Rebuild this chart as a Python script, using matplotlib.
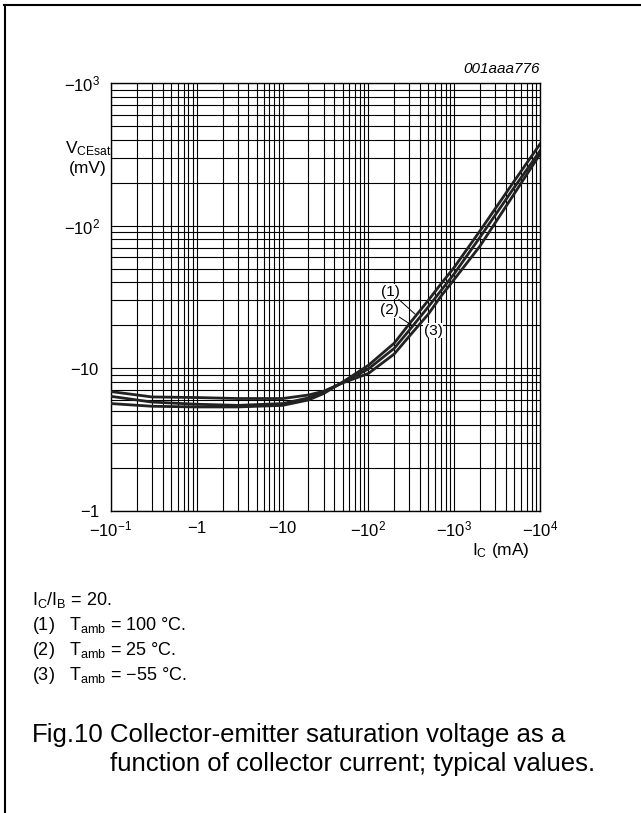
import numpy as np
import matplotlib
matplotlib.use("Agg")
import matplotlib.pyplot as plt
from matplotlib.lines import Line2D
from matplotlib.ticker import FixedLocator, LogLocator, NullFormatter

plt.rcParams['font.family'] = ['Liberation Sans', 'DejaVu Sans']
plt.rcParams['mathtext.fontset'] = 'custom'
plt.rcParams['mathtext.rm'] = 'Liberation Sans'
plt.rcParams['mathtext.it'] = 'Liberation Sans:italic'

# collector current (mA) and V_CEsat (mV) (negative values)
ic = [-0.1, -0.3, -1, -3, -10, -20, -30, -50, -100, -200, -300, -500, -700, -1000, -2000, -5000, -10000]
vce_100 = [-5.66, -5.42, -5.36, -5.36, -5.5, -6.0, -6.65, -8.0, -10.5, -15.0, -20.5, -30, -39, -51, -92, -205, -373]
vce_25 = [-6.36, -5.8, -5.6, -5.5, -5.66, -6.2, -6.8, -7.95, -9.9, -13.8, -18.5, -27, -35, -46, -83, -185, -334]
vce_m55 = [-6.87, -6.3, -6.24, -6.14, -6.14, -6.5, -6.9, -7.9, -9.2, -12.6, -16.8, -24, -32, -42, -72, -167, -317]

x_ticks = [0.1, 1, 10, 100, 1000, 10000]
x_labels = [r'$-10^{-1}$', r'$-1$', r'$-10$', r'$-10^{2}$', r'$-10^{3}$', r'$-10^{4}$']
y_ticks = [1, 10, 100, 1000]
y_labels = [r'$-1$', r'$-10$', r'$-10^{2}$', r'$-10^{3}$']

fig = plt.figure(figsize=(6.41, 8.13), dpi=100)
ax = fig.add_axes([0.1732, 0.3715, 0.6692, 0.5264])

ic_abs = -np.array(ic)
for v in (vce_100, vce_25, vce_m55):
    ax.plot(ic_abs, -np.array(v), color='#222222', lw=2.0, zorder=3)

ax.set_xscale('log')
ax.set_yscale('log')
ax.set_xlim(0.1, 10000)
ax.set_ylim(1, 1000)

ax.xaxis.set_major_locator(FixedLocator(x_ticks))
ax.yaxis.set_major_locator(FixedLocator(y_ticks))
ax.set_xticklabels(x_labels)
ax.set_yticklabels(y_labels)
ax.xaxis.set_minor_locator(LogLocator(base=10, subs=np.arange(2, 10)))
ax.yaxis.set_minor_locator(LogLocator(base=10, subs=np.arange(2, 10)))
ax.xaxis.set_minor_formatter(NullFormatter())
ax.yaxis.set_minor_formatter(NullFormatter())
ax.tick_params(which='both', length=0, labelsize=12)
ax.tick_params(axis='x', pad=6.5)
ax.tick_params(axis='y', pad=8)
ax.grid(True, which='both', color='black', lw=0.8)
for s in ax.spines.values():
    s.set_linewidth(1.0)

# axis labels
fig.text(88 / 641, 1 - 158 / 813, 'V$_{\\mathregular{CEsat}}$\n(mV)', ha='center', va='center',
         fontsize=12.5, linespacing=1.25)
fig.text(530 / 641, 1 - 550 / 813, 'I$_{\\mathregular{C}}$ (mA)', ha='right', va='center', fontsize=12.5)
fig.text(540 / 641, 1 - 69 / 813, '001aaa776', ha='right', va='center', fontsize=11, style='italic')

# curve labels
box = dict(facecolor='white', edgecolor='none', pad=0.5)
ax.annotate('(1)', xy=(349, 24.0), xytext=(179, 34.5), ha='center', va='center', fontsize=11,
            bbox=box, arrowprops=dict(arrowstyle='-', lw=0.7, color='black', shrinkA=0, shrinkB=0))
ax.annotate('(2)', xy=(322, 20.0), xytext=(174, 25.5), ha='center', va='center', fontsize=11,
            bbox=box, arrowprops=dict(arrowstyle='-', lw=0.7, color='black', shrinkA=0, shrinkB=0))
ax.text(566, 18.4, '(3)', ha='center', va='center', fontsize=11, bbox=box, zorder=4)

# notes
notes = ['I$_{\\mathregular{C}}$/I$_{\\mathregular{B}}$ = 20.',
         '(1)   T$_{\\mathregular{amb}}$ = 100 \u00b0C.',
         '(2)   T$_{\\mathregular{amb}}$ = 25 \u00b0C.',
         '(3)   T$_{\\mathregular{amb}}$ = \u221255 \u00b0C.']
for i, t in enumerate(notes):
    fig.text(32 / 641, 1 - (600 + 25 * i) / 813, t, ha='left', va='center', fontsize=13)

fig.text(32 / 641, 1 - 735 / 813, 'Fig.10', ha='left', va='center', fontsize=18.5)
fig.text(110 / 641, 1 - 735 / 813, 'Collector-emitter saturation voltage as a', ha='left', va='center', fontsize=18.5)
fig.text(110 / 641, 1 - 764 / 813, 'function of collector current; typical values.', ha='left', va='center', fontsize=18.5)

# frame
fig.add_artist(Line2D([4.5 / 641, 4.5 / 641], [0, 1 - 5 / 813], color='black', lw=1.5))
fig.add_artist(Line2D([4 / 641, 1], [1 - 5.5 / 813, 1 - 5.5 / 813], color='black', lw=1.5))

fig.savefig('out.png', dpi=100)
